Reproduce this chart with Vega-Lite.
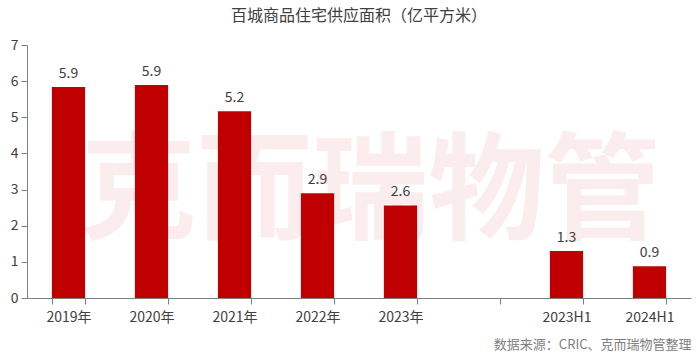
{
  "$schema": "https://vega.github.io/schema/vega-lite/v6.json",
  "width": 664,
  "height": 253,
  "autosize": {"type": "none"},
  "padding": {"left": 27, "top": 45, "right": 9, "bottom": 55},
  "background": "white",
  "config": {
    "view": {"stroke": null},
    "font": "Noto Sans CJK SC",
    "axis": {"grid": false, "domainColor": "#7f7f7f", "tickColor": "#7f7f7f", "labelColor": "#404040", "labelFontSize": 14, "labelFont": "Noto Sans CJK SC"}
  },
  "title": {"text": "百城商品住宅供应面积（亿平方米）", "fontSize": 16, "fontWeight": "normal", "color": "#404040", "font": "Noto Sans CJK SC", "anchor": "middle", "offset": 14},
  "datasets": {
    "bars": [
      {"period": "2019年", "value": 5.84, "label": "5.9"},
      {"period": "2020年", "value": 5.89, "label": "5.9"},
      {"period": "2021年", "value": 5.17, "label": "5.2"},
      {"period": "2022年", "value": 2.9, "label": "2.9"},
      {"period": "2023年", "value": 2.56, "label": "2.6"},
      {"period": "2023H1", "value": 1.3, "label": "1.3"},
      {"period": "2024H1", "value": 0.88, "label": "0.9"}
    ],
    "wm": [{"period": "2023年", "value": 2.85, "label": "克而瑞物管"}]
  },
  "encoding": {
    "x": {"field": "period", "type": "nominal", "sort": null,
      "scale": {"domain": ["2019年", "2020年", "2021年", "2022年", "2023年", " ", "2023H1", "2024H1"], "paddingInner": 0.6, "paddingOuter": 0.3},
      "axis": {"labelAngle": 0, "tickBand": "extent", "tickSize": 6, "labelPadding": 6, "title": "数据来源：CRIC、克而瑞物管整理", "titleAnchor": "end", "titleAlign": "right", "titleFontSize": 13, "titleFontWeight": "normal", "titleColor": "#7f7f7f", "titleFont": "Noto Sans CJK SC", "titlePadding": 14}},
    "y": {"field": "value", "type": "quantitative",
      "scale": {"domain": [0, 7]},
      "axis": {"title": null, "values": [0, 1, 2, 3, 4, 5, 6, 7], "tickSize": 6, "labelPadding": 3}}
  },
  "layer": [
    {
      "data": {"name": "wm"},
      "mark": {"type": "text", "fontSize": 116, "fontWeight": "bold", "color": "#fbeded", "align": "center", "baseline": "middle", "dx": -30, "font": "Noto Sans CJK SC"},
      "encoding": {"text": {"field": "label"}}
    },
    {
      "data": {"name": "bars"},
      "mark": {"type": "bar", "color": "#c00000"}
    },
    {
      "data": {"name": "bars"},
      "mark": {"type": "text", "baseline": "bottom", "dy": -6, "fontSize": 14, "color": "#404040"},
      "encoding": {"text": {"field": "label"}}
    }
  ]
}
